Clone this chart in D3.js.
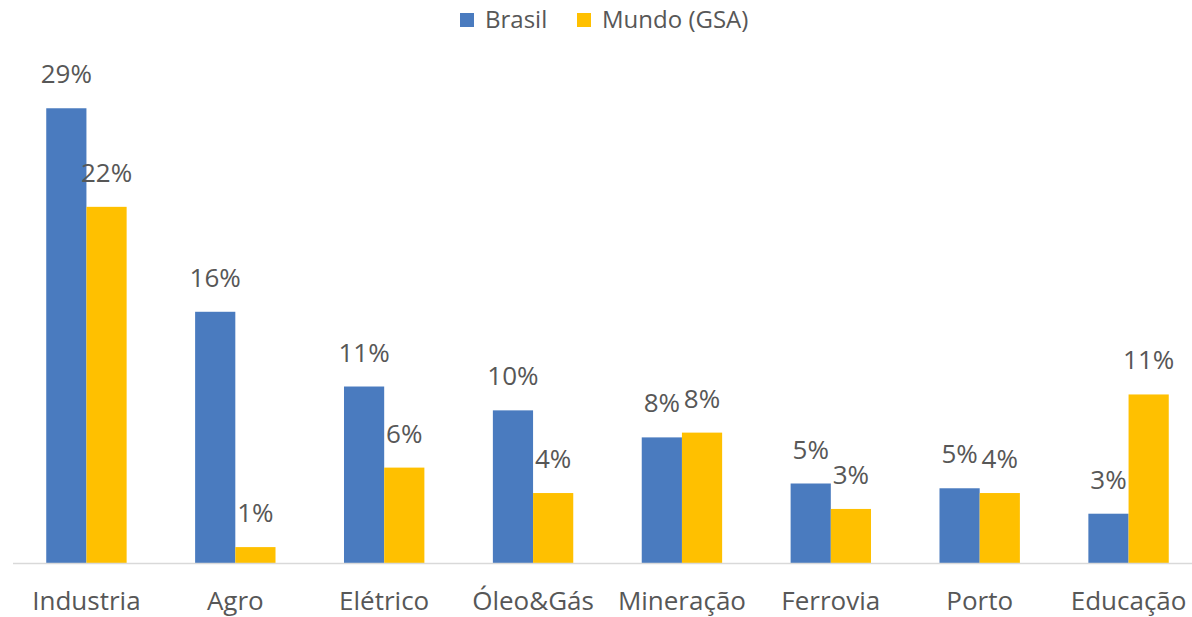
<!DOCTYPE html>
<html>
<head>
<meta charset="utf-8">
<script src="https://cdn.jsdelivr.net/npm/d3@7"></script>
<style>
  body { margin: 0; background: #fff; }
  text { font-family: "Open Sans", sans-serif; fill: #575757; }
</style>
</head>
<body>
<svg id="chart"></svg>
<script>
const w = 1192;
const h = 617;

// data
const categories = ["Industria", "Agro", "Elétrico", "Óleo&Gás", "Mineração", "Ferrovia", "Porto", "Educação"];
const series = ["Brasil", "Mundo (GSA)"];
const brasil = [28.6, 15.8, 11.1, 9.6, 7.9, 5.0, 4.7, 3.1];
const mundo = [22.4, 1.0, 6.0, 4.4, 8.2, 3.4, 4.4, 10.6];
const colors = ["#4A7BBF", "#FFC000"];

const rows = categories.map((c, i) => ({ cat: c, values: [brasil[i], mundo[i]] }));

const svg = d3.select("#chart")
  .attr("width", w)
  .attr("height", h);

// scales
const x0 = d3.scaleBand()
  .domain(categories)
  .range([12, 1203])
  .paddingInner(0.46)
  .paddingOuter(0.23);

const x1 = d3.scaleBand()
  .domain(d3.range(series.length))
  .range([0, x0.bandwidth()]);

const y = d3.scaleLinear()
  .domain([0, 30])
  .range([563, 86]);

const fmt = d => d3.format(".0f")(d) + "%";

// bars
const groups = svg.selectAll(".grp")
  .data(rows)
  .join("g")
  .attr("class", "grp")
  .attr("transform", d => `translate(${x0(d.cat)},0)`);

groups.selectAll("rect")
  .data(d => d.values.map((v, i) => ({ v, i })))
  .join("rect")
  .attr("x", d => x1(d.i))
  .attr("y", d => y(d.v))
  .attr("width", x1.bandwidth())
  .attr("height", d => y(0) - y(d.v))
  .attr("fill", d => colors[d.i]);

// data labels
groups.selectAll(".lbl")
  .data(d => d.values.map((v, i) => ({ v, i })))
  .join("text")
  .attr("class", "lbl")
  .attr("x", d => x1(d.i) + x1.bandwidth() / 2)
  .attr("y", d => y(d.v) - 25)
  .attr("text-anchor", "middle")
  .style("font-size", "26px")
  .text(d => fmt(d.v));

// baseline
svg.append("line")
  .attr("x1", 13).attr("x2", w)
  .attr("y1", y(0) + 0.5).attr("y2", y(0) + 0.5)
  .attr("stroke", "#d9d9d9")
  .attr("stroke-width", 1.5);

// category labels
svg.selectAll(".cat")
  .data(categories)
  .join("text")
  .attr("class", "cat")
  .attr("x", d => x0(d) + x0.bandwidth() / 2)
  .attr("y", 610)
  .attr("text-anchor", "middle")
  .style("font-size", "26px")
  .text(d => d);

// legend
const legendX = [460, 577];
const legend = svg.selectAll(".leg")
  .data(series)
  .join("g")
  .attr("class", "leg")
  .attr("transform", (d, i) => `translate(${legendX[i]},13)`);

legend.append("rect")
  .attr("width", 14)
  .attr("height", 14)
  .attr("fill", (d, i) => colors[i]);

legend.append("text")
  .attr("x", 25)
  .attr("y", 15)
  .style("font-size", "24px")
  .text(d => d);
</script>
</body>
</html>
